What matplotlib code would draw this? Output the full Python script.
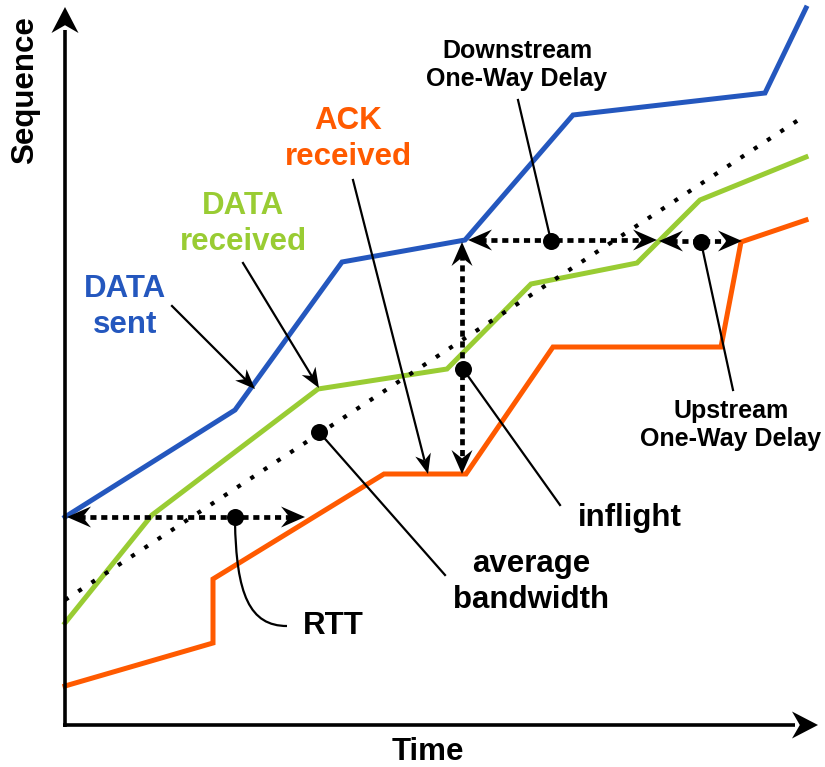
import matplotlib
matplotlib.use('Agg')
import matplotlib.pyplot as plt
import numpy as np
from matplotlib.patches import Polygon, PathPatch
from matplotlib.path import Path

plt.rcParams['font.family'] = ['Liberation Sans', 'DejaVu Sans']

# picture coordinates (x to the right, y downwards)
sent_x = [65, 235, 342, 465, 573, 765, 806]
sent_y = [517, 410, 262, 240, 115, 93, 8]
recv_x = [65, 152, 318, 447, 531, 637, 700, 806]
recv_y = [623, 515, 389, 369, 284, 263, 200, 157]
ack_x = [65, 213, 213, 384, 466, 553, 721, 741, 806]
ack_y = [686, 643, 579, 474, 474, 347, 347, 242, 220]
bw_x = [65, 806]
bw_y = [600, 115]

blue = '#2457BE'
green = '#99CC33'
orange = '#FF5A00'

fig = plt.figure(figsize=(8.25, 7.67), dpi=100)
ax = fig.add_axes([0, 0, 1, 1])
ax.set_xlim(0, 825)
ax.set_ylim(767, 0)
ax.axis('off')


def head(tip, base, length=24, width=21, notch=0.35, z=6):
    tip = np.array(tip, float)
    base = np.array(base, float)
    u = (tip - base) / np.linalg.norm(tip - base)
    n = np.array([-u[1], u[0]])
    pts = [tip,
           tip - length * u + width / 2 * n,
           tip - (1 - notch) * length * u,
           tip - length * u - width / 2 * n]
    ax.add_patch(Polygon(pts, closed=True, color='black', zorder=z, lw=0))


def double_arrow(p0, p1):
    u = np.array(p1, float) - np.array(p0, float)
    u /= np.linalg.norm(u)
    a = np.array(p0) + u * 12
    b = np.array(p1) - u * 12
    ax.plot([a[0], b[0]], [a[1], b[1]], color='black', lw=3.4,
            linestyle=(0, (1.3, 1.0)), dash_capstyle='butt', zorder=5)
    head(p0, p1)
    head(p1, p0)


# axes
ax.plot([65, 65], [727, 30], color='black', lw=2.6, solid_capstyle='butt', zorder=4)
ax.plot([63, 795], [725, 725], color='black', lw=2.6, solid_capstyle='butt', zorder=4)
head((65, 7), (65, 700), length=26, width=27, notch=0.3)
head((818, 725), (100, 725), length=26, width=27, notch=0.3)

# series
ax.plot(bw_x, bw_y, color='black', lw=3.0, linestyle=(0, (1.0, 2.8)),
        dash_capstyle='butt', zorder=3)
ax.plot(ack_x, ack_y, color=orange, lw=3.6, zorder=2, solid_joinstyle='miter')
ax.plot(recv_x, recv_y, color=green, lw=3.6, zorder=2, solid_joinstyle='miter')
ax.plot(sent_x, sent_y, color=blue, lw=3.6, zorder=2, solid_joinstyle='miter')

# measurement arrows
double_arrow((67, 517), (305, 517))          # RTT
double_arrow((468, 240), (657, 240))         # downstream
double_arrow((659, 241), (742, 241))         # upstream
double_arrow((462, 242), (462, 474))         # inflight

dots_x = [235, 551, 701, 463, 319]
dots_y = [517, 241, 242, 369, 432]
ax.scatter(dots_x, dots_y, s=150, color='black', zorder=7, lw=0)

# leader lines
thin = dict(color='black', lw=1.6, zorder=6)
ax.plot([551, 518], [241, 100], **thin)
ax.plot([701, 733], [242, 390], **thin)
ax.plot([463, 560], [369, 505], **thin)
ax.plot([319, 445], [432, 575], **thin)
curve = Path([(235, 520), (236, 595), (250, 626), (287, 626)],
             [Path.MOVETO, Path.CURVE4, Path.CURVE4, Path.CURVE4])
ax.add_patch(PathPatch(curve, fill=False, **thin))

# label arrows
for (x0, y0), (x1, y1) in [((172, 306), (255, 389)),
                           ((243, 263), (319, 388)),
                           ((353, 180), (428, 474))]:
    ax.plot([x0, x1 - (x1 - x0) * 0.05], [y0, y1 - (y1 - y0) * 0.05], **thin)
    head((x1, y1), (x0, y0), length=20, width=16, notch=0.3)

# texts
big = dict(fontsize=22.5, fontweight='bold', ha='center', va='center', linespacing=1.24)
small = dict(fontsize=18, fontweight='bold', ha='center', va='center', linespacing=1.25)
ax.text(25, 90, 'Sequence', rotation=90, color='black', **big)
ax.text(428, 752, 'Time', color='black', **big)
ax.text(125, 307, 'DATA\nsent', color=blue, **big)
ax.text(243, 224, 'DATA\nreceived', color=green, **big)
ax.text(348, 139, 'ACK\nreceived', color=orange, **big)
ax.text(517, 65, 'Downstream\nOne-Way Delay', color='black', **small)
ax.text(731, 425, 'Upstream\nOne-Way Delay', color='black', **small)
ax.text(630, 518, 'inflight', color='black', **big)
ax.text(531, 582, 'average\nbandwidth', color='black', **big)
ax.text(333, 626, 'RTT', color='black', **big)

fig.savefig('out.png', dpi=100)
